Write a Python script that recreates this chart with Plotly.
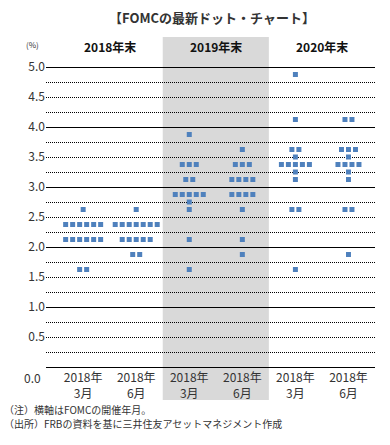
import plotly.graph_objects as go

# ---- data ----
title_text = "【FOMCの最新ドット・チャート】"
period_labels = ["2018年末", "2019年末", "2020年末"]
meeting_labels = ["2018年<br>3月", "2018年<br>6月", "2018年<br>3月", "2018年<br>6月", "2018年<br>3月", "2018年<br>6月"]

# rate levels and number of participants at each level, per column
rates_2018_mar = [2.625, 2.375, 2.125, 1.625]
counts_2018_mar = [1, 6, 6, 2]
rates_2018_jun = [2.625, 2.375, 2.125, 1.875]
counts_2018_jun = [1, 7, 5, 2]
rates_2019_mar = [3.875, 3.375, 3.125, 2.875, 2.75, 2.625, 2.125, 1.625]
counts_2019_mar = [1, 3, 2, 5, 1, 1, 1, 1]
rates_2019_jun = [3.625, 3.375, 3.125, 2.875, 2.625, 2.125, 1.875]
counts_2019_jun = [1, 3, 4, 4, 1, 1, 1]
rates_2020_mar = [4.875, 4.125, 3.625, 3.5, 3.375, 3.25, 3.125, 2.625, 1.625]
counts_2020_mar = [1, 1, 2, 1, 5, 1, 1, 2, 1]
rates_2020_jun = [4.125, 3.625, 3.5, 3.375, 3.25, 3.125, 2.625, 1.875]
counts_2020_jun = [2, 3, 1, 4, 1, 1, 2, 1]

notes = ["（注）横軸はFOMCの開催年月。", "（出所）FRBの資料を基に三井住友アセットマネジメント作成"]

columns = [
    (rates_2018_mar, counts_2018_mar),
    (rates_2018_jun, counts_2018_jun),
    (rates_2019_mar, counts_2019_mar),
    (rates_2019_jun, counts_2019_jun),
    (rates_2020_mar, counts_2020_mar),
    (rates_2020_jun, counts_2020_jun),
]

# ---- layout geometry ----
W, H = 390, 445
ML, MR, MT, MB = 46, 15, 61, 78
XR = [0.3, 6.5]
YR = [0.0, 5.1]
plot_w = W - ML - MR
plot_h = H - MT - MB
px_per_x = plot_w / (XR[1] - XR[0])
dot_step = 7 / px_per_x  # horizontal spacing between stacked dots


def py_to_paper(py):
    return (H - MB - py) / plot_h


def px_to_paper(px):
    return (px - ML) / plot_w


xs, ys = [], []
for ci, (rates, counts) in enumerate(columns):
    center = ci + 1
    for r, n in zip(rates, counts):
        for j in range(n):
            xs.append(center + (j - (n - 1) / 2) * dot_step)
            ys.append(r)

FONT = "Noto Sans CJK JP"
TXT = "#333333"

fig = go.Figure()
fig.add_trace(go.Scatter(
    x=xs, y=ys, mode="markers",
    marker=dict(symbol="square", size=5, color="#4F81BD", line=dict(width=0)),
    showlegend=False, hoverinfo="skip",
))
# helper trace so the overlay axis (solid integer gridlines) exists
fig.add_trace(go.Scatter(x=[None], y=[None], yaxis="y2", showlegend=False, hoverinfo="skip"))

# shaded 2019 band
fig.add_shape(type="rect", xref="x", yref="paper",
              x0=2.5, x1=4.5, y0=py_to_paper(400), y1=py_to_paper(37),
              fillcolor="#D9D9D9", line=dict(width=0), layer="below")

annotations = []
for k, lab in enumerate(period_labels):
    annotations.append(dict(
        text="<b>%s</b>" % lab, x=1.5 + 2 * k, xref="x", y=py_to_paper(47), yref="paper",
        showarrow=False, xanchor="center", yanchor="middle",
        font=dict(family=FONT, size=12, color="#111111")))
annotations.append(dict(
    text="<b>%s</b>" % title_text, x=px_to_paper(212), xref="paper", y=py_to_paper(17), yref="paper",
    showarrow=False, xanchor="center", yanchor="middle",
    font=dict(family=FONT, size=13, color=TXT)))
annotations.append(dict(
    text="(%)", x=px_to_paper(32), xref="paper", y=py_to_paper(45), yref="paper",
    showarrow=False, xanchor="center", yanchor="middle",
    font=dict(family=FONT, size=8, color=TXT)))
annotations.append(dict(
    text="0.0", x=0, xref="paper", xshift=-3, y=0, yref="y", yshift=-10,
    showarrow=False, xanchor="right", yanchor="middle",
    font=dict(family=FONT, size=12, color=TXT)))
for k, note in enumerate(notes):
    annotations.append(dict(
        text=note, x=px_to_paper(3), xref="paper", y=py_to_paper(409 + 14.5 * k), yref="paper",
        showarrow=False, xanchor="left", yanchor="middle", borderpad=0,
        font=dict(family=FONT, size=10, color=TXT)))

grid_vals = [i * 0.25 for i in range(0, 21)]

fig.update_layout(
    width=W, height=H,
    margin=dict(l=ML, r=MR, t=MT, b=MB, pad=0),
    paper_bgcolor="white", plot_bgcolor="rgba(0,0,0,0)",
    font=dict(family=FONT, size=12, color=TXT),
    xaxis=dict(range=XR, tickvals=[1, 2, 3, 4, 5, 6], ticktext=meeting_labels,
               showgrid=False, zeroline=False, showline=True, linecolor="black", linewidth=1,
               ticks="", tickfont=dict(family=FONT, size=12, color=TXT), fixedrange=True),
    yaxis=dict(range=YR, tickvals=grid_vals,
               ticktext=[("%.1f" % v) if (v > 0 and abs(v * 2 - round(v * 2)) < 1e-9) else "" for v in grid_vals],
               showgrid=True, gridcolor="black", gridwidth=1, griddash="1px,1px",
               zeroline=False, showline=False, ticks="",
               tickfont=dict(family=FONT, size=12, color=TXT), fixedrange=True),
    yaxis2=dict(range=YR, overlaying="y", side="left", tickvals=[0, 1, 2, 3, 4, 5],
                showgrid=True, gridcolor="black", gridwidth=1, showticklabels=False,
                zeroline=False, showline=False, ticks="", fixedrange=True),
    annotations=annotations,
    showlegend=False,
)

fig.write_html("out.html", config={"displayModeBar": False},
               post_script="document.body.style.margin='0';document.body.style.overflow='hidden';")
